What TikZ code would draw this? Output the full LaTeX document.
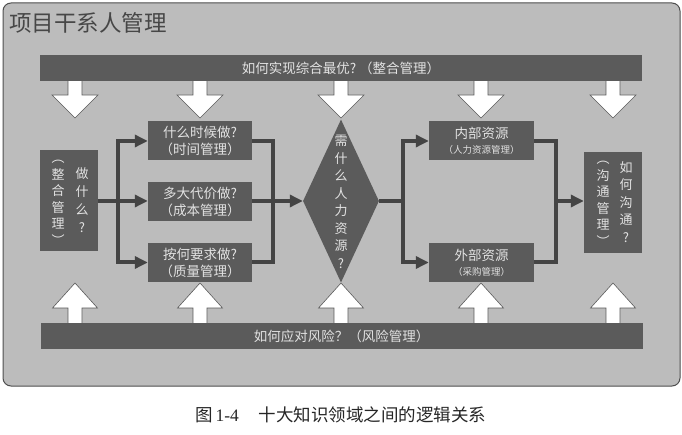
\documentclass[tikz,border=0pt]{standalone}
\usepackage{fontspec}
\setmainfont{Liberation Serif}
\newfontfamily\cjk{Noto Sans CJK SC}
\newcommand\notefont{\cjk\fontsize{9.5}{11}\selectfont}
\usetikzlibrary{arrows.meta,shapes.geometric}

\definecolor{panel}{HTML}{BCBCBC}
\definecolor{rim}{HTML}{4E4E4E}
\definecolor{boxfill}{HTML}{5B5B5B}
\definecolor{boxtext}{HTML}{E2E2E2}
\definecolor{wire}{HTML}{444444}
\definecolor{titlegray}{HTML}{474747}
\definecolor{arrowline}{HTML}{5A5A5A}

\begin{document}
\begin{tikzpicture}[x=1pt,y=-1pt,
  box/.style={fill=boxfill,text=boxtext,inner sep=0pt,align=center,
    font=\cjk\fontsize{13.5}{17}\selectfont},
  bar/.style={box,minimum width=602pt,minimum height=26pt},
  midbox/.style={box,minimum width=104pt,minimum height=39pt},
  resbox/.style={box,minimum width=105pt,minimum height=39pt},
  sidebox/.style={box,minimum width=58pt,minimum height=101pt},
  vcol/.style={text=boxtext,inner sep=0pt,align=center},
  wire/.style={draw=wire,line width=4pt,line join=miter},
  wirearrow/.style={wire,-{Triangle[length=13pt,width=12pt]}},
  blockarrow/.style={draw=arrowline,fill=white,line width=0.6pt,line join=miter}
]
\useasboundingbox (0,0) rectangle (682,435);

% panel and heading
\draw[draw=rim,fill=panel,line width=1pt,rounded corners=8pt] (3,3) rectangle (680,386);
\node[anchor=west,inner sep=0pt,text=titlegray,font=\cjk\fontsize{22.5}{24}\selectfont]
  (title) at (9,23) {项目干系人管理};

% hollow arrows from the top bar and up to the bottom bar
\foreach \ax in {75,200,341,481,613} {
  \draw[blockarrow] (\ax-7,78) -- (\ax-7,95) -- (\ax-23,95) -- (\ax,118)
    -- (\ax+23,95) -- (\ax+7,95) -- (\ax+7,78);
  \draw[blockarrow] (\ax-7,326) -- (\ax-7,308) -- (\ax-22.5,308) -- (\ax,283)
    -- (\ax+22.5,308) -- (\ax+7,308) -- (\ax+7,326);
}

% top and bottom bars
\node[bar] (integ) at (341,68) {如何实现综合最优?\ （整合管理）};
\node[bar] (risk) at (341.5,336) {如何应对风险？（风险管理）};

% left: integration
\node[sidebox] (L) at (69,201) {};
\node[vcol,font=\cjk\fontsize{13}{18}\selectfont] (Lr) at (82,200) {做\\什\\么\\?};
\node[vcol,font=\cjk\fontsize{13}{16.5}\selectfont] (Ll) at (58,203) {︵\\整\\合\\管\\理\\︶};

% middle column
\node[midbox] (M1) at (200,141) {什么时候做?\\（时间管理）};
\node[midbox] (M2) at (200,201.5) {多大代价做?\\（成本管理）};
\node[midbox] (M3) at (200,262.5) {按何要求做?\\（质量管理）};

% diamond: human resources
\node[diamond,fill=boxfill,inner sep=0pt,minimum width=76pt,minimum height=163pt]
  (D) at (341,201) {};
\node[vcol,font=\cjk\fontsize{13}{17.5}\selectfont] (Dt) at (341,202) {需\\什\\么\\人\\力\\资\\源\\?};

% resources
\node[resbox] (R1) at (481.5,141) {内部资源\\[-2pt]{\notefont（人力资源管理）}};
\node[resbox] (R2) at (481.5,262.5) {外部资源\\[-2pt]{\notefont（采购管理）}};

% right: communication
\node[sidebox] (C) at (613,202.5) {};
\node[vcol,font=\cjk\fontsize{13}{17.5}\selectfont] (Cr) at (626,202) {如\\何\\沟\\通\\?};
\node[vcol,font=\cjk\fontsize{13}{16.5}\selectfont] (Cl) at (603,204) {︵\\沟\\通\\管\\理\\︶};

% connectors
\coordinate (j1) at (118,201);
\coordinate (j2) at (273,201);
\coordinate (j3) at (403,201);
\coordinate (j4) at (556,201);

\draw[wirearrow] (L.east |- j1) -- (M2.west |- j1);
\draw[wirearrow] (j1) |- (M1.west);
\draw[wirearrow] (j1) |- (M3.west);

\draw[wire] (M1.east) -| (j2);
\draw[wire] (M3.east) -| (j2);
\draw[wirearrow] (M2.east |- j2) -- (D.west);

\draw[wire] (D.east) -- (j3);
\draw[wirearrow] (j3) |- (R1.west);
\draw[wirearrow] (j3) |- (R2.west);

\draw[wire] (R1.east) -| (j4);
\draw[wire] (R2.east) -| (j4);
\draw[wirearrow] (j4) -- (C.west |- j4);

% caption
\node[anchor=west,inner sep=0pt,text=black!85,font=\fontsize{17.5}{19}\selectfont]
  (cap) at (195,415) {{\cjk 图}\,1-4\hspace{20pt}{\cjk 十大知识领域之间的逻辑关系}};
\end{tikzpicture}
\end{document}
